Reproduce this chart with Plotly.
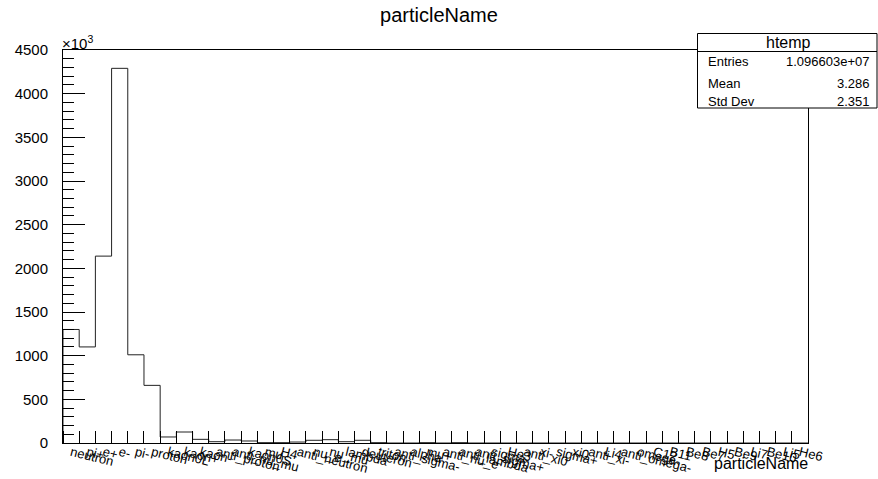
import plotly.graph_objects as go

# ---- data (counts in thousands) ----
categories = [
    "neutron", "pi+", "e+", "e-", "pi-", "proton", "kaon0L", "kaon+", "kaon-",
    "anti_proton", "anti_nu_mu", "kaon0S", "mu-", "H4", "anti_neutron", "nu_e",
    "nu_mu", "lambda", "deuteron", "triton", "anti_sigma-", "alpha", "mu+",
    "anti_nu_e", "anti_lambda", "anti_sigma+", "sigma-", "He3", "anti_xi0", "xi-",
    "sigma+", "xi0", "anti_xi-", "Li4", "anti_omega-", "omega-", "C12", "B11",
    "Be8", "Be7", "H5", "Be9", "Li7", "Be10", "Li5", "He6",
]
counts_k = [
    1300, 1100, 2140, 4290, 1010, 660, 69, 126, 42,
    15, 34, 23, 4, 4, 11, 31,
    38, 15, 31, 4, 0, 0, 4,
    0, 4, 0, 0, 0, 0, 0,
    0, 0, 0, 0, 0, 0, 0, 0,
    0, 0, 0, 0, 0, 0, 0, 0,
]
y_ticks = [0, 500, 1000, 1500, 2000, 2500, 3000, 3500, 4000, 4500]
stats_title = "htemp"
stats_names = ["Entries", "Mean", "Std Dev"]
stats_values = ["1.096603e+07", "3.286", "2.351"]

n = len(categories)
edges = list(range(n + 1))
centers = [i + 0.5 for i in range(n)]

# step outline like a ROOT histogram
xs = [edges[0]] + edges + [edges[-1]]
ys = [0] + counts_k + [counts_k[-1]] + [0]

fig = go.Figure()
fig.add_trace(go.Scatter(
    x=xs, y=ys, mode="lines", line=dict(color="#222222", width=1, shape="hv"),
    hoverinfo="skip", showlegend=False,
))

FONT = "Liberation Sans, Arial, sans-serif"

fig.update_layout(
    width=878, height=479,
    margin=dict(l=63, r=70, t=50, b=36),
    paper_bgcolor="white", plot_bgcolor="white",
    font=dict(family=FONT, color="black"),
    title=dict(text="particleName", x=0.5, xanchor="center", y=1 - 15 / 479,
               yanchor="middle", font=dict(size=20, family=FONT, color="black")),
    showlegend=False,
)

fig.update_xaxes(
    range=[0, n], tickmode="array", tickvals=centers, ticktext=categories,
    ticks="", tickangle=14, tickfont=dict(size=13, family=FONT),
    ticklabelstandoff=-4,
    automargin=False,
    showgrid=False, zeroline=False, showline=True, linecolor="black",
    linewidth=1, mirror=True,
    minor=dict(ticks="inside", ticklen=12, tick0=0, dtick=1, tickcolor="black",
               showgrid=False),
)
fig.update_yaxes(
    range=[0, 4500], tickmode="array", tickvals=y_ticks,
    ticks="inside", ticklen=22, tickcolor="black",
    tickfont=dict(size=15, family=FONT), ticklabelstandoff=11,
    automargin=False,
    showgrid=False, zeroline=False, showline=True, linecolor="black",
    linewidth=1, mirror=True,
    minor=dict(ticks="inside", ticklen=11, tick0=0, dtick=100, tickcolor="black",
               showgrid=False),
)

# x10^3 multiplier
fig.add_annotation(xref="paper", yref="paper", x=0, y=1.0, xanchor="left",
                   yanchor="bottom", text="×10<sup>3</sup>", showarrow=False,
                   font=dict(size=15, family=FONT), xshift=-3, yshift=-4)

# axis title at right end
fig.add_annotation(xref="paper", yref="paper", x=1.003, y=-0.0534, xanchor="right",
                   yanchor="middle", text="particleName", showarrow=False,
                   font=dict(size=16, family=FONT))

# stats box
def px(xp):
    return (xp - 63) / 745.0

def py(yp):
    return (443 - yp) / 393.0

fig.add_shape(type="rect", xref="paper", yref="paper",
              x0=px(697.5), x1=px(877), y0=py(108), y1=py(33.5),
              line=dict(color="black", width=1), fillcolor="white", layer="above")
fig.add_shape(type="line", xref="paper", yref="paper",
              x0=px(697.5), x1=px(877), y0=py(51.5), y1=py(51.5),
              line=dict(color="black", width=1), layer="above")
fig.add_annotation(xref="paper", yref="paper", x=px(788), y=py(42.5),
                   text=stats_title, showarrow=False, xanchor="center",
                   yanchor="middle", font=dict(size=16, family=FONT))
row_y = [61.7, 83.3, 102]
for name, val, yy in zip(stats_names, stats_values, row_y):
    fig.add_annotation(xref="paper", yref="paper", x=px(706), y=py(yy),
                       text=name, showarrow=False, xanchor="left",
                       yanchor="middle", font=dict(size=13, family=FONT))
    fig.add_annotation(xref="paper", yref="paper", x=px(872), y=py(yy),
                       text=val, showarrow=False, xanchor="right",
                       yanchor="middle", font=dict(size=13, family=FONT))

fig.write_html("out.html")
